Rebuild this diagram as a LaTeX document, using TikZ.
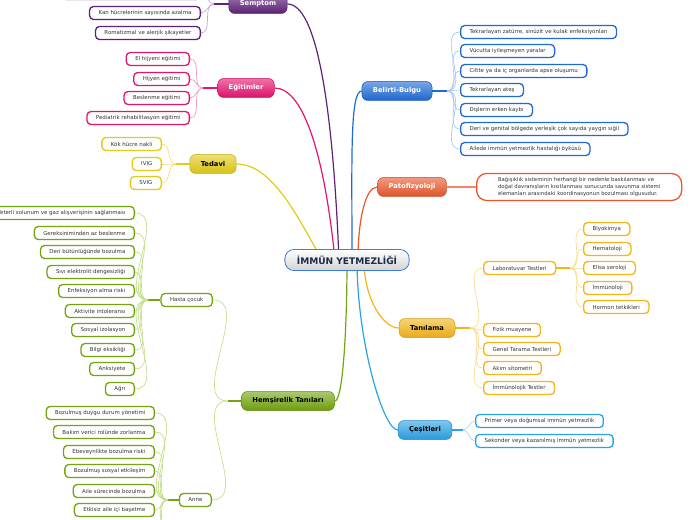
\documentclass[tikz,border=0pt]{standalone}
\usepackage{fontspec}
\setmainfont{DejaVu Sans}
\usetikzlibrary{backgrounds}
\definecolor{purp}{HTML}{5E2179}
\definecolor{purplt}{HTML}{C7A3D6}
\definecolor{pinkm}{HTML}{E5146F}
\definecolor{pinklt}{HTML}{F59AC0}
\definecolor{yelm}{HTML}{E2CB16}
\definecolor{yellt}{HTML}{F0E27A}
\definecolor{greenm}{HTML}{72A50F}
\definecolor{greenlt}{HTML}{C4DF8E}
\definecolor{bluem}{HTML}{1E6BD6}
\definecolor{bluelt}{HTML}{A9C8F0}
\definecolor{orgm}{HTML}{E9572B}
\definecolor{ambm}{HTML}{F4B41A}
\definecolor{amblt}{HTML}{FBDB94}
\definecolor{skym}{HTML}{2BA2E6}
\definecolor{skylt}{HTML}{A8D8F4}
\definecolor{rootline}{HTML}{3D7FD8}
\definecolor{roottext}{HTML}{1B2B48}
\tikzset{
	rootbox/.style={rounded corners=9bp, minimum height=21bp, inner xsep=12bp, inner ysep=0pt,
		draw=rootline, line width=0.8bp, top color=white, bottom color=gray!35,
		text=roottext, font=\fontsize{9.1}{10}\selectfont\bfseries},
	branch/.style={rounded corners=6bp, minimum height=19bp, inner xsep=11bp, inner ysep=0pt,
		draw=#1!85!black, line width=0.5bp, top color=#1!60!white, bottom color=#1!95!black,
		font=\fontsize{6.8}{8}\selectfont\bfseries},
	leaf/.style={rounded corners=4bp, minimum height=13bp, inner xsep=9bp, inner ysep=0pt,
		draw=#1, line width=1.3bp, fill=white, text=black!80, font=\fontsize{5.45}{6.5}\selectfont},
	trunk/.style={draw=#1, line width=1.2bp},
	stem/.style={draw=#1, line width=1.6bp},
	twig/.style={draw=#1, line width=0.7bp},
}
\begin{document}
\begin{tikzpicture}[x=1bp,y=-1bp]
			\useasboundingbox (0,0) rectangle (696,520);
			\clip (0,0) rectangle (696,520);
			
			\node[rootbox] (root) at (347,260) {İMMÜN YETMEZLİĞİ};
			
			\node[branch=purp, text=white] (semptom) at (258,4) {Semptom};
			\node[branch=pinkm, text=white] (egitim) at (246,88) {Eğitimler};
			\node[branch=yelm, text=black] (tedavi) at (213,164) {Tedavi};
			\node[branch=greenm, text=black] (hemsire) at (288,401) {Hemşirelik Tanıları};
			\node[branch=bluem, text=white] (belirti) at (397,91) {Belirti-Bulgu};
			\node[branch=orgm, text=white] (pato) at (412,187) {Patofizyoloji};
			\node[branch=ambm, text=black] (tani) at (427,328) {Tanılama};
			\node[branch=skym, text=black] (cesit) at (425,430) {Çeşitleri};
			
			\node[leaf=purp, anchor=east, minimum width=138bp] (s0) at (201,-7) {};
			\node[leaf=purp, anchor=east] (s1) at (201,13) {Kan hücrelerinin sayısında azalma};
			\node[leaf=purp, anchor=east] (s2) at (201,33) {Romatizmal ve alerjik şikayetler};
			
			\node[leaf=pinkm, anchor=east] (e1) at (190,59) {El hijyeni eğitimi};
			\node[leaf=pinkm, anchor=east] (e2) at (190,79) {Hijyen eğitimi};
			\node[leaf=pinkm, anchor=east] (e3) at (190,98) {Beslenme eğitimi};
			\node[leaf=pinkm, anchor=east] (e4) at (190,118) {Pediatrik rehabilitasyon eğitimi};
			
			\node[leaf=yelm, anchor=east] (t1) at (162,144) {Kök hücre nakli};
			\node[leaf=yelm, anchor=east] (t2) at (162,164) {IVIG};
			\node[leaf=yelm, anchor=east] (t3) at (162,183) {SVIG};
			
			\node[leaf=greenm, anchor=east] (hasta) at (213,300) {Hasta çocuk};
			\node[leaf=greenm, anchor=east] (anne) at (212,500) {Anne};
			
			\node[leaf=greenm, anchor=east] (h1) at (135,213) {Yeterli solunum ve gaz alışverişinin sağlanması};
			\node[leaf=greenm, anchor=east] (h2) at (135,233) {Gereksiniminden az beslenme};
			\node[leaf=greenm, anchor=east] (h3) at (135,252) {Deri bütünlüğünde bozulma};
			\node[leaf=greenm, anchor=east] (h4) at (135,272) {Sıvı elektrolit dengesizliği};
			\node[leaf=greenm, anchor=east] (h5) at (135,291) {Enfeksiyon alma riski};
			\node[leaf=greenm, anchor=east] (h6) at (135,311) {Aktivite intoleransı};
			\node[leaf=greenm, anchor=east] (h7) at (135,330) {Sosyal izolasyon};
			\node[leaf=greenm, anchor=east] (h8) at (135,350) {Bilgi eksikliği};
			\node[leaf=greenm, anchor=east] (h9) at (135,369) {Anksiyete};
			\node[leaf=greenm, anchor=east] (h10) at (135,389) {Ağrı};
			
			\node[leaf=greenm, anchor=east] (a1) at (155,413) {Bozulmuş duygu durum yönetimi};
			\node[leaf=greenm, anchor=east] (a2) at (155,432) {Bakım verici rolünde zorlanma};
			\node[leaf=greenm, anchor=east] (a3) at (155,452) {Ebeveynlikte bozulma riski};
			\node[leaf=greenm, anchor=east] (a4) at (155,471) {Bozulmuş sosyal etkileşim};
			\node[leaf=greenm, anchor=east] (a5) at (155,491) {Aile sürecinde bozulma};
			\node[leaf=greenm, anchor=east] (a6) at (155,510) {Etkisiz aile içi başetme};
			\coordinate (a7) at (155,530);
			\coordinate (a8) at (155,549);
			
			\node[leaf=bluem, anchor=west] (b1) at (460,32) {Tekrarlayan zatürre, sinüzit ve kulak enfeksiyonları};
			\node[leaf=bluem, anchor=west] (b2) at (460,51) {Vücutta iyileşmeyen yaralar};
			\node[leaf=bluem, anchor=west] (b3) at (460,71) {Ciltte ya da iç organlarda apse oluşumu};
			\node[leaf=bluem, anchor=west] (b4) at (460,90) {Tekrarlayan ateş};
			\node[leaf=bluem, anchor=west] (b5) at (460,110) {Dişlerin erken kaybı};
			\node[leaf=bluem, anchor=west] (b6) at (460,129) {Deri ve genital bölgede yerleşik çok sayıda yaygın siğil};
			\node[leaf=bluem, anchor=west] (b7) at (460,149) {Ailede immün yetmezlik hastalığı öyküsü};
			
			\node[leaf=orgm, anchor=west, rounded corners=10bp, minimum height=27bp, minimum width=205bp,
				inner xsep=14bp, align=left, font=\fontsize{5.35}{6.6}\selectfont] (tanim) at (476,187)
				{Bağışıklık sisteminin herhangi bir nedenle baskılanması ve\\
				doğal davranışların kısıtlanması sonucunda savunma sistemi\\
				elemanları arasındaki koordinasyonun bozulması olgusudur.};
			
			\node[leaf=ambm, anchor=west] (lab) at (483,268) {Laboratuvar Testleri};
			\node[leaf=ambm, anchor=west] (l1) at (583,229) {Biyokimya};
			\node[leaf=ambm, anchor=west] (l2) at (583,249) {Hematoloji};
			\node[leaf=ambm, anchor=west] (l3) at (583,268) {Elisa seroloji};
			\node[leaf=ambm, anchor=west] (l4) at (583,288) {İmmünoloji};
			\node[leaf=ambm, anchor=west] (l5) at (583,307) {Hormon tetkikleri};
			\node[leaf=ambm, anchor=west] (n1) at (483,330) {Fizik muayene};
			\node[leaf=ambm, anchor=west] (n2) at (483,349) {Genel Tarama Testleri};
			\node[leaf=ambm, anchor=west] (n3) at (483,368) {Akım sitometri};
			\node[leaf=ambm, anchor=west] (n4) at (483,388) {İmmünolojik Testler};
			
			\node[leaf=skym, anchor=west] (c1) at (475,421) {Primer veya doğumsal immün yetmezlik};
			\node[leaf=skym, anchor=west] (c2) at (475,441) {Sekonder veya kazanılmış immün yetmezlik};
			
			\coordinate (sfan) at (214,4);
			\coordinate (efan) at (203,88);
			\coordinate (tfan) at (176,164);
			\coordinate (hfan) at (228,401);
			\coordinate (hcfan) at (148,300);
			\coordinate (afan) at (168,500);
			\coordinate (bfan) at (447,91);
			\coordinate (nfan) at (470,328);
			\coordinate (lfan) at (570,268);
			\coordinate (cfan) at (463,430);
			
			\begin{scope}[on background layer]
			\draw[trunk=purp] (semptom.east) .. controls +(30,0) and +(-6,-150) .. ([xshift=-8bp]root.center);
			\draw[trunk=pinkm] (egitim.east) .. controls +(30,0) and +(-10,-100) .. ([xshift=-12bp]root.center);
			\draw[trunk=yelm] (tedavi.east) .. controls +(35,0) and +(-25,-45) .. ([xshift=-25bp]root.center);
			\draw[trunk=greenm] (hemsire.east) .. controls +(8,0) and +(0,70) .. (root.center);
			\draw[trunk=bluem] (belirti.west) .. controls +(-12,0) and +(0,-100) .. ([xshift=5bp]root.center);
			\draw[trunk=orgm] (pato.west) .. controls +(-12,0) and +(0,-40) .. ([xshift=11bp]root.center);
			\draw[trunk=ambm] (tani.west) .. controls +(-15,0) and +(0,40) .. ([xshift=17bp]root.center);
			\draw[trunk=skym] (cesit.west) .. controls +(-15,0) and +(0,80) .. ([xshift=10bp]root.center);
			
			\draw[stem=purp] (semptom.west) -- (sfan);
			\foreach \k in {s0,s1,s2} \draw[twig=purplt] (sfan) to[out=180,in=0] (\k.east);
			\draw[stem=pinkm] (egitim.west) -- (efan);
			\foreach \k in {e1,e2,e3,e4} \draw[twig=pinklt] (efan) to[out=180,in=0] (\k.east);
			\draw[stem=yelm] (tedavi.west) -- (tfan);
			\foreach \k in {t1,t2,t3} \draw[twig=yellt] (tfan) to[out=180,in=0] (\k.east);
			\draw[stem=greenm] (hemsire.west) -- (hfan);
			\foreach \k in {hasta,anne} \draw[twig=greenlt] (hfan) to[out=180,in=0] (\k.east);
			\draw[stem=greenm] (hasta.west) -- (hcfan);
			\foreach \k in {h1,h2,h3,h4,h5,h6,h7,h8,h9,h10} \draw[twig=greenlt] (hcfan) to[out=180,in=0] (\k.east);
			\draw[stem=greenm] (anne.west) -- (afan);
			\foreach \k in {a1,a2,a3,a4,a5,a6} \draw[twig=greenlt] (afan) to[out=180,in=0] (\k.east);
			\foreach \k in {a7,a8} \draw[twig=greenlt] (afan) to[out=180,in=0] (\k);
			\draw[stem=bluem] (belirti.east) -- (bfan);
			\foreach \k in {b1,b2,b3,b4,b5,b6,b7} \draw[twig=bluelt] (bfan) to[out=0,in=180] (\k.west);
			\draw[trunk=orgm!70!white] (pato.east) -- (tanim.west);
			\draw[stem=ambm] (tani.east) -- (nfan);
			\foreach \k in {lab,n1,n2,n3,n4} \draw[twig=amblt] (nfan) to[out=0,in=180] (\k.west);
			\draw[stem=ambm] (lab.east) -- (lfan);
			\foreach \k in {l1,l2,l3,l4,l5} \draw[twig=amblt] (lfan) to[out=0,in=180] (\k.west);
			\draw[stem=skym] (cesit.east) -- (cfan);
			\foreach \k in {c1,c2} \draw[twig=skylt] (cfan) to[out=0,in=180] (\k.west);
			\end{scope}
		\end{tikzpicture}
\end{document}
